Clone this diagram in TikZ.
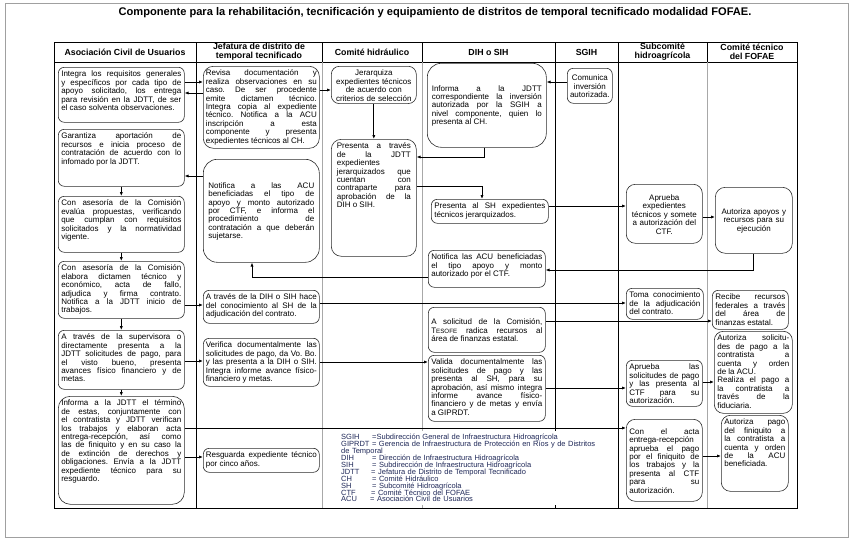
\documentclass[tikz,border=0pt]{standalone}
\usepackage{fontspec}
\setmainfont{Liberation Sans}
\usetikzlibrary{arrows.meta}
\definecolor{cajaborde}{HTML}{2B2B2B}
\definecolor{lineagris}{HTML}{A8A8A8}
\definecolor{marco}{HTML}{A0A0A0}
\definecolor{leytexto}{HTML}{1F2858}
\tolerance=10000 \hbadness=10000 \frenchspacing
\normallineskiplimit=-5pt \lineskiplimit=-5pt

\begin{document}
\begin{tikzpicture}[x=1pt, y=-1pt,
  caja/.style={draw=cajaborde, line width=0.6pt, rounded corners=6pt, anchor=north west,
               inner xsep=3pt, inner ysep=2.5pt, align=justify, text height=7pt,
               font=\fontsize{8}{8.4}\selectfont},
  cajac/.style={caja, align=center},
  cab/.style={align=center, font=\fontsize{8.8}{9}\selectfont\bfseries},
  titulo/.style={font=\fontsize{11.1}{12}\selectfont\bfseries},
  tabla/.style={draw=black, line width=1pt},
  carril/.style={draw=lineagris, line width=0.6pt},
  flecha/.style={draw=black, line width=0.8pt, -{Latex[length=4pt, width=3.2pt]}},
  leyenda/.style={fill=white, anchor=north west, align=left, inner xsep=5pt, inner ysep=2pt,
                  text=leytexto, font=\fontsize{7.5}{6.9}\selectfont},
]
\useasboundingbox (0,0) rectangle (856,541);
\draw[marco, line width=0.5pt] (5,3) rectangle (848,537);
\node[titulo] (tit) at (435,13) {Componente para la rehabilitación, tecnificación y equipamiento de distritos de temporal tecnificado modalidad FOFAE.};

% swimlanes
\draw[tabla] (54,42) rectangle (797,508);
\draw[tabla] (54,62) -- (797,62);
\draw[tabla] (196,42) -- (196,508);
\draw[tabla] (555,42) -- (555,508);
\draw[tabla] (618,42) -- (618,508);
\draw[tabla] (322,42) -- (322,62);
\draw[tabla] (422,42) -- (422,62);
\draw[tabla] (707,42) -- (707,62);
\draw[carril] (322,62) -- (322,508);
\draw[carril] (422,62) -- (422,508);
\draw[carril] (707,62) -- (707,508);

\node[cab] (h1) at (125,52) {Asociación Civil de Usuarios};
\node[cab] (h2) at (259,52) {Jefatura de distrito de\\temporal tecnificado};
\node[cab] (h3) at (372,52) {Comité hidráulico};
\node[cab] (h4) at (488.5,52) {DIH o SIH};
\node[cab] (h5) at (586.5,52) {SGIH};
\node[cab] (h6) at (662.5,52) {Subcomité\\hidroagrícola};
\node[cab] (h7) at (752,52) {Comité técnico\\del FOFAE};

\node[caja, text width=120pt, text depth=43pt] (acu1) at (58,67) {Integra los requisitos generales\linebreak y específicos por cada tipo de\linebreak apoyo solicitado, los entrega\linebreak para revisión en la JDTT, de ser\linebreak el caso solventa observaciones.};
\node[caja, text width=120pt, text depth=45pt] (acu2) at (58,129) {Garantiza aportación de\linebreak recursos e inicia proceso de\linebreak contratación de acuerdo con lo\linebreak infomado por la JDTT.};
\node[caja, text width=120pt, text depth=44pt] (acu3) at (58,196) {Con asesoría de la Comisión\linebreak evalúa propuestas, verificando\linebreak que cumplan con requisitos\linebreak solicitados y la normatividad\linebreak vigente.};
\node[caja, text width=120pt, text depth=45pt] (acu4) at (58,261) {Con asesoría de la Comisión\linebreak elabora dictamen técnico y\linebreak económico, acta de fallo,\linebreak adjudica y firma contrato.\linebreak Notifica a la JDTT inicio de\linebreak trabajos.};
\node[caja, text width=120pt, text depth=47pt] (acu5) at (58,330) {A través de la supervisora o\linebreak directamente presenta a la\linebreak JDTT solicitudes de pago, para\linebreak el visto bueno, presenta\linebreak avances físico financiero y de\linebreak metas.};
\node[caja, text width=120pt, text depth=96pt, rounded corners=12pt] (acu6) at (58,396) {Informa a la JDTT el término\linebreak de estas, conjuntamente con\linebreak el contratista y JDTT verifican\linebreak los trabajos y elaboran acta\linebreak entrega-recepción, así como\linebreak las de finiquito y en su caso la\linebreak de extinción de derechos y\linebreak obligaciones. Envía a la JDTT\linebreak expediente técnico para su\linebreak resguardo.};

\node[caja, text width=111pt, inner xsep=2.5pt, text depth=70pt, rounded corners=10pt] (jdtt1) at (203,66) {Revisa documentación y\linebreak realiza observaciones en su\linebreak caso. De ser procedente\linebreak emite dictamen técnico.\linebreak Integra copia al expediente\linebreak técnico. Notifica a la ACU\linebreak inscripción a esta\linebreak componente y presenta\linebreak expedientes técnicos al CH.};
\node[caja, text width=106pt, inner xsep=5pt, minimum height=103pt, rounded corners=14pt] (jdtt2) at (203,159) {Notifica a las ACU\linebreak beneficiadas el tipo de\linebreak apoyo y monto autorizado\linebreak por CTF, e informa el\linebreak procedimiento de\linebreak contratación a que deberán\linebreak sujetarse.};
\node[caja, text width=111pt, inner xsep=2.5pt, text depth=21pt] (jdtt3) at (203,290) {A través de la DIH o SIH hace\linebreak del conocimiento al SH de la\linebreak adjudicación del contrato.};
\node[caja, text width=111pt, inner xsep=2.5pt, text depth=36pt] (jdtt4) at (203,338) {Verifica documentalmente las\linebreak solicitudes de pago, da Vo. Bo.\linebreak y las presenta a la DIH o SIH.\linebreak Integra informe avance físico-\linebreak financiero y metas.};
\node[caja, text width=111pt, inner xsep=2.5pt, text depth=12pt] (jdtt5) at (203,448) {Resguarda expediente técnico\linebreak por cinco años.};

\node[cajac, text width=79pt, minimum height=37pt, rounded corners=8pt] (ch1) at (331,66) {Jerarquiza\\expedientes técnicos\\de acuerdo con\\criterios de selección};
\node[caja, text width=74pt, inner xsep=5.5pt, text depth=105pt, rounded corners=10pt] (ch2) at (331,139) {Presenta a través\linebreak de la JDTT\linebreak expedientes\linebreak jerarquizados que\linebreak cuentan con\linebreak contraparte para\linebreak aprobación de la\linebreak DIH o SIH.};

\node[caja, text width=110pt, inner xsep=4.5pt, minimum height=84pt, rounded corners=14pt] (dih1) at (427,63) {Informa a la JDTT\linebreak correspondiente la inversión\linebreak autorizada por la SGIH a\linebreak nivel componente, quien lo\linebreak presenta al CH.};
\node[caja, text width=111pt, text depth=12pt] (dih2) at (431,199) {Presenta al SH expedientes\linebreak técnicos jerarquizados.};
\node[caja, text width=111pt, text depth=25pt] (dih3) at (428,250) {Notifica las ACU beneficiadas\linebreak el tipo apoyo y monto\linebreak autorizado por el CTF.};
\node[caja, text width=111pt, minimum height=45pt] (dih4) at (428,307) {A solicitud de la Comisión,\linebreak T{\fontsize{6.2}{8.4}\selectfont ESOFE} radica recursos al\linebreak área de finanzas estatal.};
\node[caja, text width=111pt, text depth=54pt] (dih5) at (428,355) {Valida documentalmente las\linebreak solicitudes de pago y las\linebreak presenta al SH, para su\linebreak aprobación, así mismo integra\linebreak informe avance físico-\linebreak financiero y de metas y envía\linebreak a GIPRDT.};

\node[cajac, text width=41pt, inner xsep=2pt, minimum height=35pt] (sgih1) at (567,68) {Comunica\\inversión\\autorizada.};

\node[cajac, text width=70pt, minimum height=59pt, rounded corners=9pt] (sh1) at (626,184) {Aprueba\\expedientes\\técnicos y somete\\a autorización del\\CTF.};
\node[caja, text width=71pt, text depth=19pt] (sh2) at (626,288) {Toma conocimiento\linebreak de la adjudicación\linebreak del contrato.};
\node[caja, text width=70pt, text depth=34pt] (sh3) at (626,360) {Aprueba las\linebreak solicitudes de pago\linebreak y las presenta al\linebreak CTF para su\linebreak autorización.};
\node[caja, text width=70pt, minimum height=82pt, rounded corners=9pt] (sh4) at (626,419) {Con el acta\linebreak entrega-recepción\linebreak aprueba el pago\linebreak por el finiquito de\linebreak los trabajos y la\linebreak presenta al CTF\linebreak para su\linebreak autorización.};

\node[cajac, text width=71pt, minimum height=66pt, rounded corners=10pt] (ctf1) at (715,187) {Autoriza apoyos y\\recursos para su\\ejecución};
\node[caja, text width=70pt, text depth=27pt] (ctf2) at (712,290) {Recibe recursos\linebreak federales a través\linebreak del área de\linebreak finanzas estatal.};
\node[caja, text width=72pt, text depth=70pt, rounded corners=9pt] (ctf3) at (714,331) {Autoriza solicitu-\linebreak des de pago a la\linebreak contratista a\linebreak cuenta y orden\linebreak de la ACU.\par Realiza el pago a\linebreak la contratista a\linebreak través de la\linebreak fiduciaria.};
\node[caja, text width=61pt, text depth=64pt, rounded corners=9pt] (ctf4) at (721,415) {Autoriza pago\linebreak del finiquito a\linebreak la contratista a\linebreak cuenta y orden\linebreak de la ACU\linebreak beneficiada.};

\node[leyenda, text width=266pt, minimum height=74pt] (ley) at (336,431) {%
\makebox[31pt][l]{SGIH}=Subdirección General de Infraestructura Hidroagrícola\\
GIPRDT = Gerencia de Infraestructura de Protección en Ríos y de Distritos\\
de Temporal\\
\makebox[31pt][l]{DIH}= Dirección de Infraestructura Hidroagrícola\\
\makebox[31pt][l]{SIH}= Subdirección de Infraestructura Hidroagrícola\\
\makebox[30pt][l]{JDTT}= Jefatura de Distrito de Temporal Tecnificado\\
\makebox[31pt][l]{CH}= Comité Hidráulico\\
\makebox[31pt][l]{SH}= Subcomité Hidroagrícola\\
\makebox[30pt][l]{CTF}= Comité Técnico del FOFAE\\
\makebox[29pt][l]{ACU}= Asociación Civil de Usuarios};

\draw[flecha] (acu1.east |- 0,82) -- (jdtt1.west |- 0,82);
\draw[flecha] (jdtt1.west |- 0,93) -- (acu1.east |- 0,93);
\draw[flecha] (jdtt1.east |- 0,90) -- (ch1.west |- 0,90);
\draw[flecha] (ch1.south) -- (ch2.north);
\draw[flecha] (sgih1.west |- 0,82) -- (dih1.east |- 0,82);
\draw[flecha] (dih1.south -| 484,0) |- (ch2.east |- 0,157);
\draw[flecha] (ch2.east |- 0,186) -| (dih2.north -| 482,0);
\draw[flecha] (dih2.east |- 0,206) -- (sh1.west |- 0,206);
\draw[flecha] (sh1.east |- 0,217) -- (ctf1.west |- 0,217);
\draw[flecha] (ctf1.south) |- (dih3.east |- 0,270);
\draw[flecha] (dih3.west |- 0,277) -| (jdtt2.south -| 252,0);
\draw[flecha] (jdtt2.west |- 0,176) -- (acu2.east |- 0,176);
\draw[flecha] (acu2.south) -- (acu3.north);
\draw[flecha] (acu3.south) -- (acu4.north);
\draw[flecha] (acu4.south) -- (acu5.north);
\draw[flecha] (acu5.south) -- (acu6.north);
\draw[flecha] (acu4.east |- 0,305) -- (jdtt3.west |- 0,305);
\draw[flecha] (jdtt3.east |- 0,303) -- (sh2.west |- 0,303);
\draw[flecha] (dih4.east |- 0,321) -- (ctf2.west |- 0,321);
\draw[flecha] (acu5.east |- 0,361) -- (jdtt4.west |- 0,361);
\draw[flecha] (jdtt4.east |- 0,362) -- (dih5.west |- 0,362);
\draw[flecha] (dih5.east |- 0,388) -- (sh3.west |- 0,388);
\draw[flecha] (sh3.east |- 0,382) -- (ctf3.west |- 0,382);
\draw[flecha] (acu6.east |- 0,428) -- (sh4.west |- 0,428);
\draw[flecha] (acu6.east |- 0,457) -- (jdtt5.west |- 0,457);
\draw[flecha] (sh4.east |- 0,456) -- (ctf4.west |- 0,456);
\end{tikzpicture}
\end{document}
